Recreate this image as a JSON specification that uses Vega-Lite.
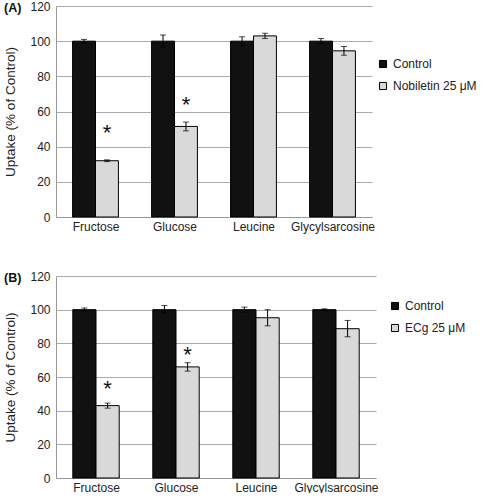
{
  "$schema": "https://vega.github.io/schema/vega-lite/v6.json",
  "padding": {"left": 3, "top": 0, "right": 0, "bottom": 0},
  "config": {
    "font": "Liberation Sans",
    "view": {"stroke": null},
    "axis": {"labelFontSize": 12, "labelColor": "#222", "titleFontSize": 13.5, "titleFontWeight": "normal", "titleColor": "#222", "domainColor": "#999", "tickColor": "#999", "gridColor": "#aaa", "labelOverlap": false},
    "legend": {"labelFontSize": 12, "labelColor": "#222", "symbolType": "square", "symbolSize": 50, "symbolStrokeColor": "black", "symbolStrokeWidth": 1, "rowPadding": 10, "title": null},
    "title": {"fontSize": 12.5, "fontWeight": "bold", "color": "#111"}
  },
  "datasets": {
    "a": [
      {"compound": "Fructose", "treatment": "Control", "value": 100, "lo": 99, "hi": 101},
      {"compound": "Glucose", "treatment": "Control", "value": 100, "lo": 96.5, "hi": 103.5},
      {"compound": "Leucine", "treatment": "Control", "value": 100, "lo": 97.5, "hi": 102.5},
      {"compound": "Glycylsarcosine", "treatment": "Control", "value": 100, "lo": 98.5, "hi": 101.5},
      {"compound": "Fructose", "treatment": "Nobiletin 25 μM", "value": 32, "lo": 31.5, "hi": 32.5},
      {"compound": "Glucose", "treatment": "Nobiletin 25 μM", "value": 51.5, "lo": 49, "hi": 54},
      {"compound": "Leucine", "treatment": "Nobiletin 25 μM", "value": 103, "lo": 101.5, "hi": 104.5},
      {"compound": "Glycylsarcosine", "treatment": "Nobiletin 25 μM", "value": 94.5, "lo": 92, "hi": 97}
    ],
    "a_star": [
      {"compound": "Fructose", "treatment": "Nobiletin 25 μM", "y": 50},
      {"compound": "Glucose", "treatment": "Nobiletin 25 μM", "y": 66}
    ],
    "b": [
      {"compound": "Fructose", "treatment": "Control", "value": 100, "lo": 99, "hi": 101},
      {"compound": "Glucose", "treatment": "Control", "value": 100, "lo": 98, "hi": 102.5},
      {"compound": "Leucine", "treatment": "Control", "value": 100, "lo": 98.5, "hi": 101.5},
      {"compound": "Glycylsarcosine", "treatment": "Control", "value": 100, "lo": 99.5, "hi": 100.5},
      {"compound": "Fructose", "treatment": "ECg 25 μM", "value": 43, "lo": 41.5, "hi": 44.5},
      {"compound": "Glucose", "treatment": "ECg 25 μM", "value": 66, "lo": 63.5, "hi": 68.5},
      {"compound": "Leucine", "treatment": "ECg 25 μM", "value": 95.2, "lo": 90.4, "hi": 100},
      {"compound": "Glycylsarcosine", "treatment": "ECg 25 μM", "value": 88.7, "lo": 83.9, "hi": 93.6}
    ],
    "b_star": [
      {"compound": "Fructose", "treatment": "ECg 25 μM", "y": 55},
      {"compound": "Glucose", "treatment": "ECg 25 μM", "y": 75.5}
    ]
  },
  "spacing": 38,
  "resolve": {"scale": {"color": "independent", "xOffset": "independent", "x": "independent", "y": "independent"}, "legend": {"color": "independent"}},
  "vconcat": [
    {
      "width": 316,
      "height": 211,
      "title": {"text": "(A)", "anchor": "start", "frame": "bounds", "offset": -14},
      "encoding": {
        "x": {"field": "compound", "type": "nominal", "sort": ["Fructose", "Glucose", "Leucine", "Glycylsarcosine"], "scale": {"paddingInner": 0.42, "paddingOuter": 0.21}, "axis": {"title": null, "labelAngle": 0, "tickBand": "extent", "tickSize": -4, "labelPadding": 8}},
        "xOffset": {"field": "treatment", "type": "nominal", "scale": {"domain": ["Control", "Nobiletin 25 μM"], "paddingInner": 0}}
      },
      "layer": [
        {
          "data": {"name": "a"},
          "mark": {"type": "bar", "stroke": "black", "strokeWidth": 1},
          "encoding": {
            "y": {"field": "value", "type": "quantitative", "scale": {"domain": [0, 120], "nice": false}, "axis": {"values": [0, 20, 40, 60, 80, 100, 120], "title": "Uptake  (% of Control)", "ticks": false, "labelPadding": 6, "titlePadding": 12}},
            "color": {"field": "treatment", "type": "nominal", "scale": {"domain": ["Control", "Nobiletin 25 μM"], "range": ["#111111", "#d9d9d9"]}, "legend": {"orient": "none", "legendX": 321, "legendY": 52}}
          }
        },
        {
          "data": {"name": "a"},
          "mark": {"type": "rule", "color": "black", "strokeWidth": 1},
          "encoding": {"y": {"field": "lo", "type": "quantitative", "axis": {"values": [0, 20, 40, 60, 80, 100, 120]}}, "y2": {"field": "hi"}}
        },
        {
          "data": {"name": "a"},
          "mark": {"type": "tick", "color": "black", "size": 6, "thickness": 1},
          "encoding": {"y": {"field": "lo", "type": "quantitative", "axis": {"values": [0, 20, 40, 60, 80, 100, 120]}}}
        },
        {
          "data": {"name": "a"},
          "mark": {"type": "tick", "color": "black", "size": 6, "thickness": 1},
          "encoding": {"y": {"field": "hi", "type": "quantitative", "axis": {"values": [0, 20, 40, 60, 80, 100, 120]}}}
        },
        {
          "data": {"name": "a_star"},
          "mark": {"type": "text", "text": "*", "fontSize": 22, "baseline": "middle", "color": "#111", "dy": 4},
          "encoding": {"y": {"field": "y", "type": "quantitative", "axis": {"values": [0, 20, 40, 60, 80, 100, 120]}}}
        }
      ]
    },
    {
      "width": 320,
      "height": 202,
      "title": {"text": "(B)", "anchor": "start", "frame": "bounds", "offset": -14},
      "encoding": {
        "x": {"field": "compound", "type": "nominal", "sort": ["Fructose", "Glucose", "Leucine", "Glycylsarcosine"], "scale": {"paddingInner": 0.42, "paddingOuter": 0.21}, "axis": {"title": null, "labelAngle": 0, "tickBand": "extent", "tickSize": -4, "labelPadding": 8}},
        "xOffset": {"field": "treatment", "type": "nominal", "scale": {"domain": ["Control", "ECg 25 μM"], "paddingInner": 0}}
      },
      "layer": [
        {
          "data": {"name": "b"},
          "mark": {"type": "bar", "stroke": "black", "strokeWidth": 1},
          "encoding": {
            "y": {"field": "value", "type": "quantitative", "scale": {"domain": [0, 120], "nice": false}, "axis": {"values": [0, 20, 40, 60, 80, 100, 120], "title": "Uptake (% of Control)", "ticks": false, "labelPadding": 6, "titlePadding": 12}},
            "color": {"field": "treatment", "type": "nominal", "scale": {"domain": ["Control", "ECg 25 μM"], "range": ["#111111", "#d9d9d9"]}, "legend": {"orient": "none", "legendX": 333, "legendY": 24}}
          }
        },
        {
          "data": {"name": "b"},
          "mark": {"type": "rule", "color": "black", "strokeWidth": 1},
          "encoding": {"y": {"field": "lo", "type": "quantitative", "axis": {"values": [0, 20, 40, 60, 80, 100, 120]}}, "y2": {"field": "hi"}}
        },
        {
          "data": {"name": "b"},
          "mark": {"type": "tick", "color": "black", "size": 6, "thickness": 1},
          "encoding": {"y": {"field": "lo", "type": "quantitative", "axis": {"values": [0, 20, 40, 60, 80, 100, 120]}}}
        },
        {
          "data": {"name": "b"},
          "mark": {"type": "tick", "color": "black", "size": 6, "thickness": 1},
          "encoding": {"y": {"field": "hi", "type": "quantitative", "axis": {"values": [0, 20, 40, 60, 80, 100, 120]}}}
        },
        {
          "data": {"name": "b_star"},
          "mark": {"type": "text", "text": "*", "fontSize": 22, "baseline": "middle", "color": "#111", "dy": 4},
          "encoding": {"y": {"field": "y", "type": "quantitative", "axis": {"values": [0, 20, 40, 60, 80, 100, 120]}}}
        }
      ]
    }
  ]
}
